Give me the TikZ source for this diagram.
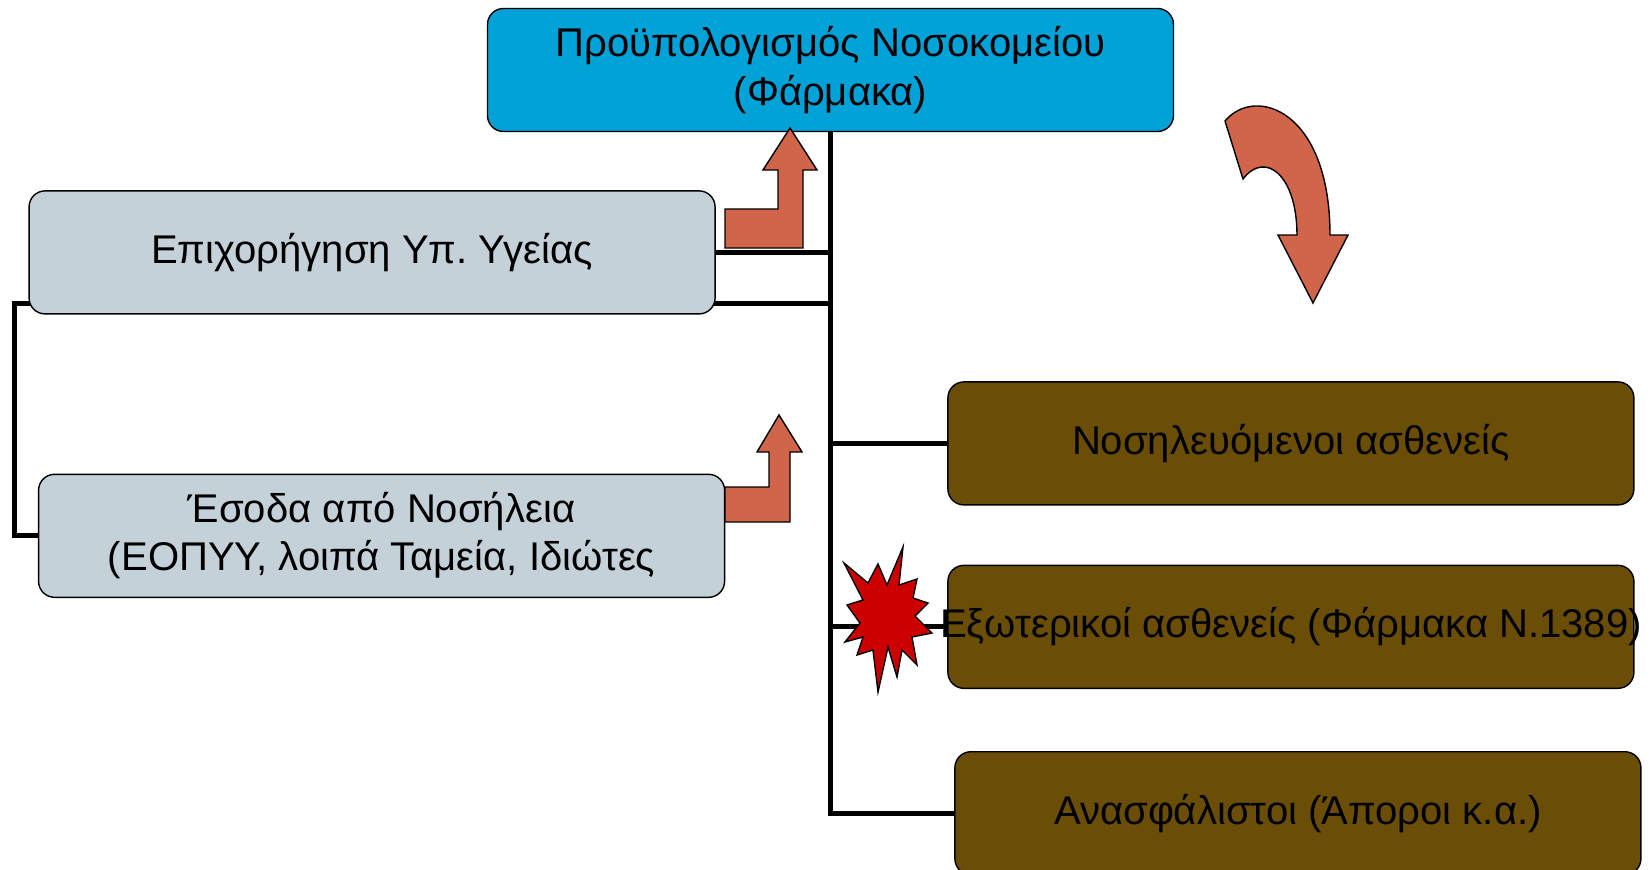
\documentclass[tikz,border=0pt]{standalone}
\usepackage{fontspec}
\setmainfont{Liberation Sans}
\usetikzlibrary{positioning,backgrounds}
\definecolor{budgetblue}{HTML}{00A2D8}
\definecolor{incomegray}{HTML}{C5D1D9}
\definecolor{patientbrown}{HTML}{6A4E08}
\definecolor{flowred}{HTML}{D0654A}
\definecolor{burstred}{HTML}{CC0000}
\frenchspacing
\tikzset{
  box/.style={
    draw=black,
    line width=0.8pt,
    rounded corners=3.2mm,
    align=center,
    font=\fontsize{22.8}{27.5}\selectfont,
    minimum width=137.2mm,
    minimum height=24.6mm,
    inner sep=0pt
  },
  link/.style={
    draw=black,
    line width=1mm
  },
  flow/.style={
    fill=flowred,
    draw=black,
    line width=0.8pt
  },
  burst/.style={
    fill=burstred,
    draw=black,
    line width=0.8pt
  }
}

\begin{document}
\begin{tikzpicture}[x=0.2mm, y=-0.2mm]
\useasboundingbox (0,0) rectangle (1651,870);

\node[box, fill=budgetblue] (budget) at (830.5,70)
  {Προϋπολογισμός Νοσοκομείου\\(Φάρμακα)};

\node[box, fill=incomegray, below left=11.6mm and -45.8mm of budget] (subsidy)
  {Επιχορήγηση Υπ. Υγείας};

\node[box, fill=incomegray, below=31.8mm of subsidy, xshift=1.9mm] (revenue)
  {Έσοδα από Νοσήλεια\\(ΕΟΠΥΥ, λοιπά Ταμεία, Ιδιώτες};

\node[box, fill=patientbrown, below right=49.8mm and -45.4mm of budget] (inpatient)
  {Νοσηλευόμενοι ασθενείς};

\node[box, fill=patientbrown, below=11.8mm of inpatient] (outpatient)
  {\makebox[0pt]{Εξωτερικοί ασθενείς (Φάρμακα Ν.1389)}};

\node[box, fill=patientbrown, below=12.4mm of outpatient, xshift=1.4mm] (uninsured)
  {Ανασφάλιστοι (Άποροι κ.α.)};

\coordinate (loop) at ([xshift=-2.8mm, yshift=2.2mm]subsidy.south west);

\begin{scope}[on background layer]
\draw[link] (budget.south) |- (uninsured.west);
\draw[link] (inpatient.west) -| (budget.south);
\draw[link] (outpatient.west) -| (budget.south);
\draw[link] (subsidy.east) -- (subsidy.east -| budget.south);
\draw[link] (revenue.west) -| (loop) -- (loop -| budget.south);
\end{scope}

% money flowing into the budget
\draw[flow] (725,248) -- (725,209) -- (778,209) -- (778,170) -- (763,170)
  -- (790,128) -- (817,170) -- (803,170) -- (803,248) -- cycle;
\draw[flow] (725,522) -- (725,487) -- (769,487) -- (769,452) -- (757,452)
  -- (779,415) -- (802,452) -- (790,452) -- (790,522) -- cycle;

% spending
\draw[flow] (1225,121) .. controls (1255,85) and (1330,110) .. (1330,235)
  -- (1348,235) -- (1313,303) -- (1278,235) -- (1297,235)
  .. controls (1297,175) and (1265,150) .. (1243,179) -- cycle;

\draw[burst] (844,563) -- (868,583) -- (878,564) -- (887,585) -- (903,547)
  -- (899,585) -- (917,579) -- (913,598) -- (928,603) -- (915,616)
  -- (932,633) -- (912,637) -- (917,665) -- (902,650) -- (897,677)
  -- (888,647) -- (878,692) -- (873,650) -- (857,655) -- (863,637)
  -- (845,642) -- (860,623) -- (847,605) -- (863,600) -- cycle;

\end{tikzpicture}
\end{document}
